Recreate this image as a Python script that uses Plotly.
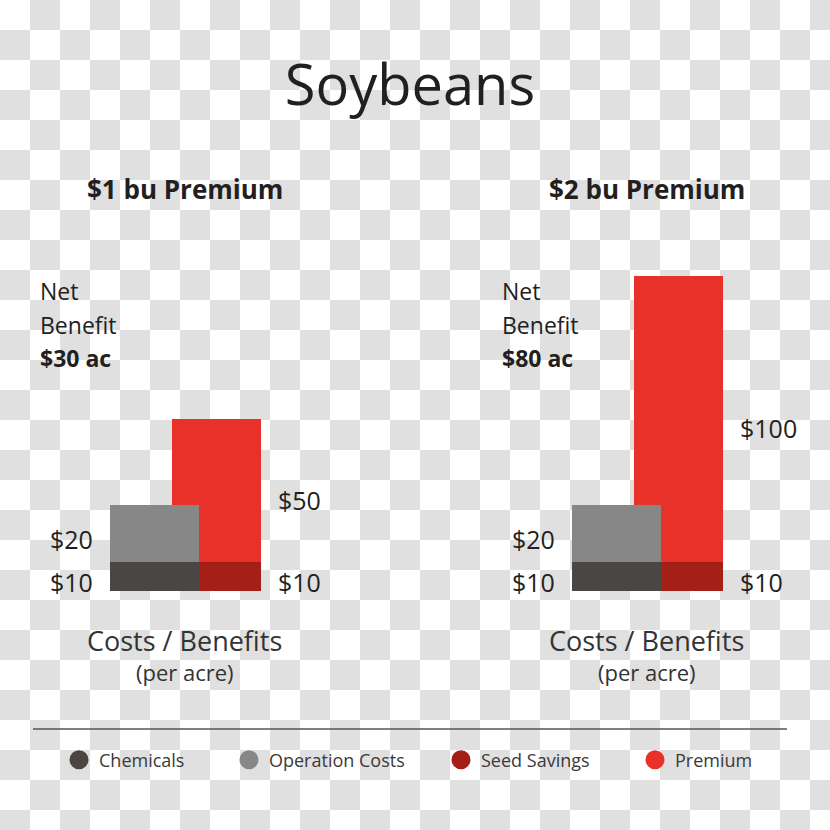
import plotly.graph_objects as go

# ---- data ----
panels = ["$1 bu Premium", "$2 bu Premium"]
net_benefit = ["$30 ac", "$80 ac"]
groups = ["Costs", "Benefits"]
chemicals = [10, 10]
operation_costs = [20, 20]
seed_savings = [10, 10]
premium = [50, 100]
series_names = ["Chemicals", "Operation Costs", "Seed Savings", "Premium"]
series_colors = ["#4a4644", "#878787", "#a41f17", "#e83128"]

W = H = 830
TXT = "#231f20"
FONT = "Open Sans"
BAR_W = 1.435

fig = go.Figure()

# checkerboard background (transparency pattern)
cell = 30
n = W // cell + 1
shapes = []
for i in range(n):
    for j in range(n):
        if (i + j) % 2 == 1:
            shapes.append(dict(type="rect", xref="paper", yref="paper",
                               x0=i * cell / W, x1=(i + 1) * cell / W,
                               y0=1 - j * cell / H, y1=1 - (j + 1) * cell / H,
                               fillcolor="#e0e0e0", line=dict(width=0), layer="below"))

x_domains = [[64.5 / W, 331.5 / W], [526.5 / W, 793.5 / W]]
y_domain = [239 / H, 630 / H]

annotations = []
for p in range(2):
    ax = "" if p == 0 else str(p + 1)
    xr, yr = "x" + ax, "y" + ax
    # benefits first (drawn beneath), then costs on top
    seg = [
        (series_names[2], groups[1], seed_savings[p], series_colors[2]),
        (series_names[3], groups[1], premium[p], series_colors[3]),
        (series_names[0], groups[0], chemicals[p], series_colors[0]),
        (series_names[1], groups[0], operation_costs[p], series_colors[1]),
    ]
    for name, g, v, c in seg:
        fig.add_trace(go.Bar(x=[g], y=[v], name=name, width=BAR_W,
                             marker=dict(color=c, line=dict(width=0)),
                             showlegend=False, xaxis=xr, yaxis=yr,
                             hoverinfo="name+y"))
    # value labels
    cost_vals = [chemicals[p], operation_costs[p]]
    ben_vals = [seed_savings[p], premium[p]]
    base = 0
    for v in cost_vals:
        annotations.append(dict(xref=xr, yref=yr, x=-BAR_W / 2, y=base + v / 2,
                                text=f"${v}", showarrow=False, xanchor="right",
                                yanchor="middle", xshift=-14, yshift=-5,
                                font=dict(size=25, color=TXT, family=FONT)))
        base += v
    base = 0
    for k, v in enumerate(ben_vals):
        annotations.append(dict(xref=xr, yref=yr, x=1 + BAR_W / 2, y=base + v / 2,
                                text=f"${v}", showarrow=False, xanchor="left",
                                yanchor="middle", xshift=16,
                                yshift=-5 if k == 0 else -9,
                                font=dict(size=25, color=TXT, family=FONT)))
        base += v
    # panel heading
    annotations.append(dict(xref=xr, yref="paper", x=0.5, y=1 - 189 / H,
                            text=f"<b>{panels[p]}</b>", showarrow=False,
                            xanchor="center", yanchor="middle",
                            font=dict(size=26, color=TXT, family=FONT)))
    # net benefit
    for k, (t, yy) in enumerate([("Net", 291), ("Benefit", 325),
                                 (f"<b>{net_benefit[p]}</b>", 358)]):
        annotations.append(dict(xref=xr + " domain", yref="paper",
                                x=(38 - 64.5) / 267, y=1 - yy / H, text=t,
                                showarrow=False, xanchor="left", yanchor="middle",
                                font=dict(size=23, color=TXT, family=FONT)))
    # axis caption
    annotations.append(dict(xref=xr, yref="paper", x=0.5, y=1 - 640 / H,
                            text="Costs / Benefits", showarrow=False,
                            xanchor="center", yanchor="middle",
                            font=dict(size=27, color="#333333", family=FONT)))
    annotations.append(dict(xref=xr, yref="paper", x=0.5, y=1 - 672 / H,
                            text="(per acre)", showarrow=False,
                            xanchor="center", yanchor="middle",
                            font=dict(size=22, color="#333333", family=FONT)))

# legend entries (circle keys), one legend each for free placement
legend_text_x = [99, 269, 481, 675]
for k, (nm, c) in enumerate(zip(series_names, series_colors)):
    lg = "legend" if k == 0 else f"legend{k + 1}"
    fig.add_trace(go.Scatter(x=[None], y=[None], mode="markers", name=nm,
                             marker=dict(color=c, size=20, symbol="circle",
                                         line=dict(color=c, width=3)),
                             legend=lg, showlegend=True))

legend_layout = {}
for k in range(4):
    key = "legend" if k == 0 else f"legend{k + 1}"
    legend_layout[key] = dict(x=(legend_text_x[k] - 40) / W, y=1 - 760 / H,
                              xanchor="left", yanchor="middle",
                              bgcolor="rgba(0,0,0,0)", borderwidth=0,
                              font=dict(size=18, color="#3a3a3a", family=FONT),
                              itemclick=False, itemdoubleclick=False)

shapes.append(dict(type="line", xref="paper", yref="paper",
                   x0=33 / W, x1=787 / W, y0=1 - 729 / H, y1=1 - 729 / H,
                   line=dict(color="#555555", width=1.5)))

axis_common = dict(visible=False, fixedrange=True)
layout = dict(
    width=W, height=H, margin=dict(l=0, r=0, t=0, b=0), autosize=False,
    paper_bgcolor="white", plot_bgcolor="rgba(0,0,0,0)",
    barmode="stack", bargap=0,
    title=dict(text="Soybeans", x=410 / W, y=1 - 85 / H, xanchor="center",
               yanchor="middle", font=dict(size=56, color=TXT, family=FONT)),
    shapes=shapes, annotations=annotations,
    xaxis=dict(domain=x_domains[0], range=[-BAR_W, 2 * BAR_W],
               categoryorder="array", categoryarray=groups, **axis_common),
    xaxis2=dict(domain=x_domains[1], range=[-BAR_W, 2 * BAR_W],
                categoryorder="array", categoryarray=groups, **axis_common),
    yaxis=dict(domain=y_domain, range=[0, 136.5], **axis_common),
    yaxis2=dict(domain=y_domain, range=[0, 136.5], **axis_common),
    showlegend=True,
    font=dict(family=FONT, color=TXT),
)
layout.update(legend_layout)
fig.update_layout(**layout)

fig.write_html("out.html")
